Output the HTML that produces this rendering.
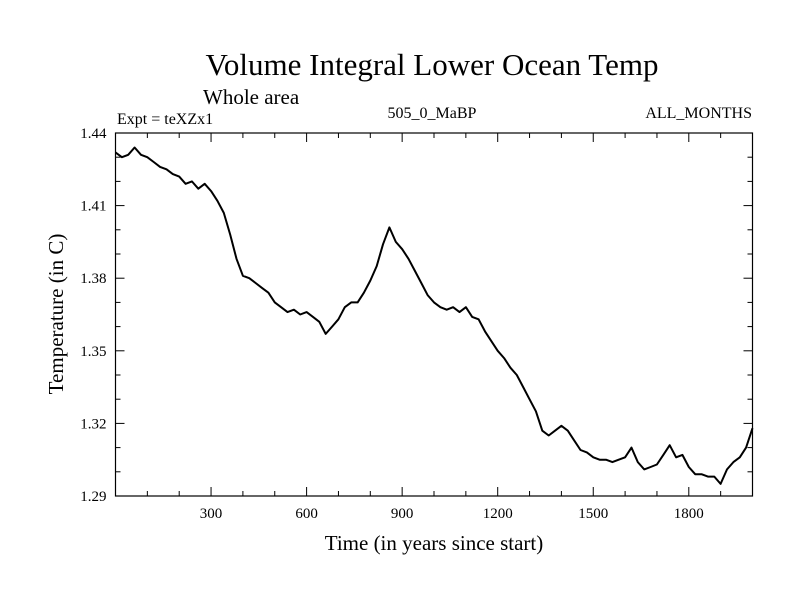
<!DOCTYPE html>
<html><head><meta charset="utf-8"><style>
body{margin:0;background:#fff}
svg text{font-family:"Liberation Serif",serif;fill:#000}
</style></head><body>
<svg width="800" height="600" id="c">
<text x="432" y="75" font-size="31" text-anchor="middle">Volume Integral Lower Ocean Temp</text>
<text x="203" y="104" font-size="21">Whole area</text>
<text x="117" y="124" font-size="16">Expt = teXZx1</text>
<text x="432" y="118" font-size="16" text-anchor="middle">505_0_MaBP</text>
<text x="752" y="118" font-size="16" text-anchor="end">ALL_MONTHS</text>
<text x="434" y="550" font-size="21" text-anchor="middle">Time (in years since start)</text>
<text transform="translate(63,314) rotate(-90)" font-size="21" text-anchor="middle">Temperature (in C)</text>
<rect x="115.5" y="133" width="637" height="363" fill="none" stroke="#000" stroke-width="1.2"/>
<g id="axes"></g>
<path id="line" fill="none" stroke="#000" stroke-width="2" stroke-linejoin="round"/>
</svg>
<script>
const years=[0,20,40,60,80,100,120,140,160,180,200,220,240,260,280,300,320,340,360,380,400,420,440,460,480,500,520,540,560,580,600,620,640,660,680,700,720,740,760,780,800,820,840,860,880,900,920,940,960,980,1000,1020,1040,1060,1080,1100,1120,1140,1160,1180,1200,1220,1240,1260,1280,1300,1320,1340,1360,1380,1400,1420,1440,1460,1480,1500,1520,1540,1560,1580,1600,1620,1640,1660,1680,1700,1720,1740,1760,1780,1800,1820,1840,1860,1880,1900,1920,1940,1960,1980,2000];
const temps=[1.432,1.430,1.431,1.434,1.431,1.430,1.428,1.426,1.425,1.423,1.422,1.419,1.420,1.417,1.419,1.416,1.412,1.407,1.398,1.388,1.381,1.380,1.378,1.376,1.374,1.370,1.368,1.366,1.367,1.365,1.366,1.364,1.362,1.357,1.360,1.363,1.368,1.370,1.370,1.374,1.379,1.385,1.394,1.401,1.395,1.392,1.388,1.383,1.378,1.373,1.370,1.368,1.367,1.368,1.366,1.368,1.364,1.363,1.358,1.354,1.350,1.347,1.343,1.340,1.335,1.330,1.325,1.317,1.315,1.317,1.319,1.317,1.313,1.309,1.308,1.306,1.305,1.305,1.304,1.305,1.306,1.310,1.304,1.301,1.302,1.303,1.307,1.311,1.306,1.307,1.302,1.299,1.299,1.298,1.298,1.295,1.301,1.304,1.306,1.310,1.318];
const xTicks=[300,600,900,1200,1500,1800];
const yTicks=["1.29","1.32","1.35","1.38","1.41","1.44"];
const X0=115.5,X1=752.5,Y0=496,Y1=133;
const xs=v=>X0+(v-0)/2000*(X1-X0);
const ys=v=>Y0-(v-1.29)/0.15*(Y0-Y1);
const NS="http://www.w3.org/2000/svg";
const g=document.getElementById('axes');
function ln(x1,y1,x2,y2,name){const l=document.createElementNS(NS,'line');l.setAttribute('x1',x1);l.setAttribute('y1',y1);l.setAttribute('x2',x2);l.setAttribute('y2',y2);l.setAttribute('stroke','#000');l.setAttribute('stroke-width','1');


g.appendChild(l);}
function tx(x,y,s,anchor,name){const t=document.createElementNS(NS,'text');t.setAttribute('x',x);t.setAttribute('y',y);t.setAttribute('font-size','15');t.setAttribute('text-anchor',anchor);t.textContent=s;


g.appendChild(t);}
for(let v=100;v<2000;v+=100){const x=xs(v),maj=v%300===0,L=maj?9:5;ln(x,Y0,x,Y0-L,'x-tick');ln(x,Y1,x,Y1+L,'x-tick-top');}
xTicks.forEach(v=>tx(xs(v),Y0+22,String(v),'middle','x-tick-label'));
for(let i=1;i<15;i++){const v=1.29+i*0.01,y=ys(v),maj=i%3===0,L=maj?9:5;ln(X0,y,X0+L,y,'y-tick');ln(X1,y,X1-L,y,'y-tick-right');}
yTicks.forEach(s=>tx(X0-9,ys(parseFloat(s))+5,s,'end','y-tick-label'));
document.getElementById('line').setAttribute('d',years.map((y,i)=>(i?'L':'M')+xs(y).toFixed(1)+','+ys(temps[i]).toFixed(1)).join(''));
</script>
</body></html>
